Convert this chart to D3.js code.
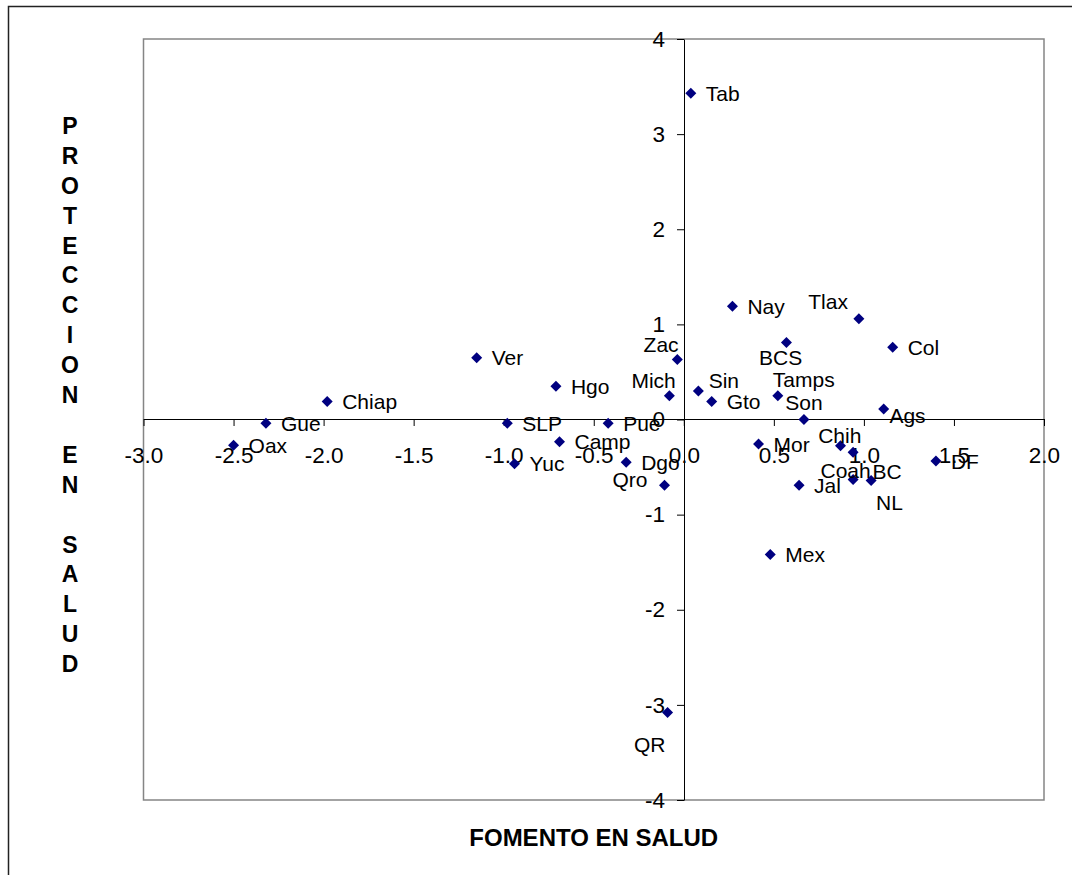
<!DOCTYPE html>
<html>
<head>
<meta charset="utf-8">
<script src="https://cdn.jsdelivr.net/npm/d3@7/dist/d3.min.js"></script>
<style>
  html, body { margin: 0; padding: 0; background: #fff; }
  svg { display: block; font-family: "Liberation Sans", Arial, sans-serif; }
</style>
</head>
<body>
<svg id="chart" width="1072" height="875"></svg>
<script>
// State abbreviations and their scores on the two health factors
const states = ["Ags","BC","BCS","Camp","Coah","Col","Chiap","Chih","DF","Dgo","Gto","Gue","Hgo","Jal","Mex","Mich",
                "Mor","Nay","NL","Oax","Pue","Qro","QR","SLP","Sin","Son","Tab","Tamps","Tlax","Ver","Yuc","Zac"];
// Fomento en salud (horizontal)
const fomento = [1.11, 0.94, 0.57, -0.69, 0.94, 1.16, -1.98, 0.87, 1.40, -0.32, 0.155, -2.32, -0.71, 0.64, 0.48, -0.08,
                 0.415, 0.27, 1.04, -2.50, -0.42, -0.107, -0.09, -0.98, 0.081, 0.667, 0.039, 0.522, 0.972, -1.15, -0.94, -0.036];
// Protección en salud (vertical)
const proteccion = [0.11, -0.345, 0.81, -0.235, -0.63, 0.76, 0.19, -0.275, -0.436, -0.45, 0.19, -0.04, 0.35, -0.69, -1.42, 0.25,
                    -0.258, 1.19, -0.64, -0.27, -0.04, -0.69, -3.08, -0.04, 0.30, 0.0, 3.43, 0.25, 1.06, 0.65, -0.465, 0.63];

const xTicks = [-3.0, -2.5, -2.0, -1.5, -1.0, -0.5, 0.0, 0.5, 1.0, 1.5, 2.0];
const yTicks = [-4, -3, -2, -1, 0, 1, 2, 3, 4];
const xTitle = "FOMENTO EN SALUD";
const yTitle = "PROTECCION EN SALUD";

// Hand-placed label nudges [dx to text start, dy to text centre]; others sit to the right
const labelNudge = {
  Tlax: [-50.6, -17.6], BCS: [-27.4, 15.4], Zac: [-33.7, -15.3], Mich: [-38, -15.7],
  Sin: [10.3, -10.7], Tamps: [-5, -16.4], Son: [-18.6, -16.7], Ags: [5.7, 6],
  Chih: [-22.3, -10.7], Coah: [-32.6, -8.6], BC: [19.4, 19.4], NL: [5, 22],
  Qro: [-52, -5.3], QR: [-33.7, 31.7]
};
const defaultNudge = [15, 0];

const points = states.map((s, i) => ({ name: s, fx: fomento[i], py: proteccion[i] }));

const svg = d3.select("#chart");

// Outer chart frame (extends past the right and bottom edges)
svg.append("rect")
  .attr("x", 8.5).attr("y", 6.5).attr("width", 1100).attr("height", 900)
  .attr("fill", "none").attr("stroke", "#222").attr("stroke-width", 1.5);

const plot = { left: 143.5, right: 1044, top: 39, bottom: 800 };

const x = d3.scaleLinear().domain([-3, 2]).range([plot.left, plot.right]);
const y = d3.scaleLinear().domain([-4, 4]).range([plot.bottom, plot.top]);

// Plot area border
svg.append("rect")
  .attr("x", plot.left).attr("y", plot.top)
  .attr("width", plot.right - plot.left).attr("height", plot.bottom - plot.top)
  .attr("fill", "#fff").attr("stroke", "#858585").attr("stroke-width", 1.5);

const x0 = Math.round(x(0));
const y0 = Math.round(y(0) - 0.5);

// Plain hyphen for negative numbers
const hyphen = f => d => f(d).replace("\u2212", "-");

// Horizontal axis crossing at y = 0
const gx = svg.append("g")
  .attr("transform", `translate(0,${y0})`)
  .call(d3.axisBottom(x).tickValues(xTicks).tickFormat(hyphen(d3.format(".1f")))
        .tickSize(7).tickSizeOuter(0).tickPadding(21));

// Vertical axis crossing at x = 0
const gy = svg.append("g")
  .attr("transform", `translate(${x0},0)`)
  .call(d3.axisLeft(y).tickValues(yTicks).tickFormat(hyphen(d3.format("d")))
        .tickSize(7).tickSizeOuter(0).tickPadding(12));

[gx, gy].forEach(g => {
  g.select(".domain").attr("stroke", "#000");
  g.selectAll(".tick line").attr("stroke", "#000");
  g.selectAll(".tick text").attr("fill", "#000").style("font-size", "22.5px")
    .style("font-family", "'Liberation Sans', Arial, sans-serif");
});

// Diamond markers
const diamond = "M0,-5.5L5.5,0L0,5.5L-5.5,0Z";
svg.append("g").selectAll("path")
  .data(points)
  .join("path")
  .attr("d", diamond)
  .attr("transform", d => `translate(${x(d.fx)},${y(d.py)})`)
  .attr("fill", "#000080");

// Data labels
svg.append("g").selectAll("text")
  .data(points)
  .join("text")
  .attr("x", d => x(d.fx) + (labelNudge[d.name] || defaultNudge)[0])
  .attr("y", d => y(d.py) + (labelNudge[d.name] || defaultNudge)[1])
  .attr("dy", "0.36em")
  .attr("fill", "#000")
  .style("font-size", "21px")
  .text(d => d.name);

// Horizontal axis title
svg.append("text")
  .attr("x", (plot.left + plot.right) / 2)
  .attr("y", 846)
  .attr("text-anchor", "middle")
  .style("font-size", "24px").style("font-weight", "bold")
  .text(xTitle);

// Vertical axis title, stacked one letter per line
svg.append("g").selectAll("text")
  .data(yTitle.split(""))
  .join("text")
  .attr("x", 70)
  .attr("y", (d, i) => 125.7 + i * 29.9)
  .attr("dy", "0.36em")
  .attr("text-anchor", "middle")
  .style("font-size", "23px").style("font-weight", "bold")
  .text(d => d);
</script>
</body>
</html>
